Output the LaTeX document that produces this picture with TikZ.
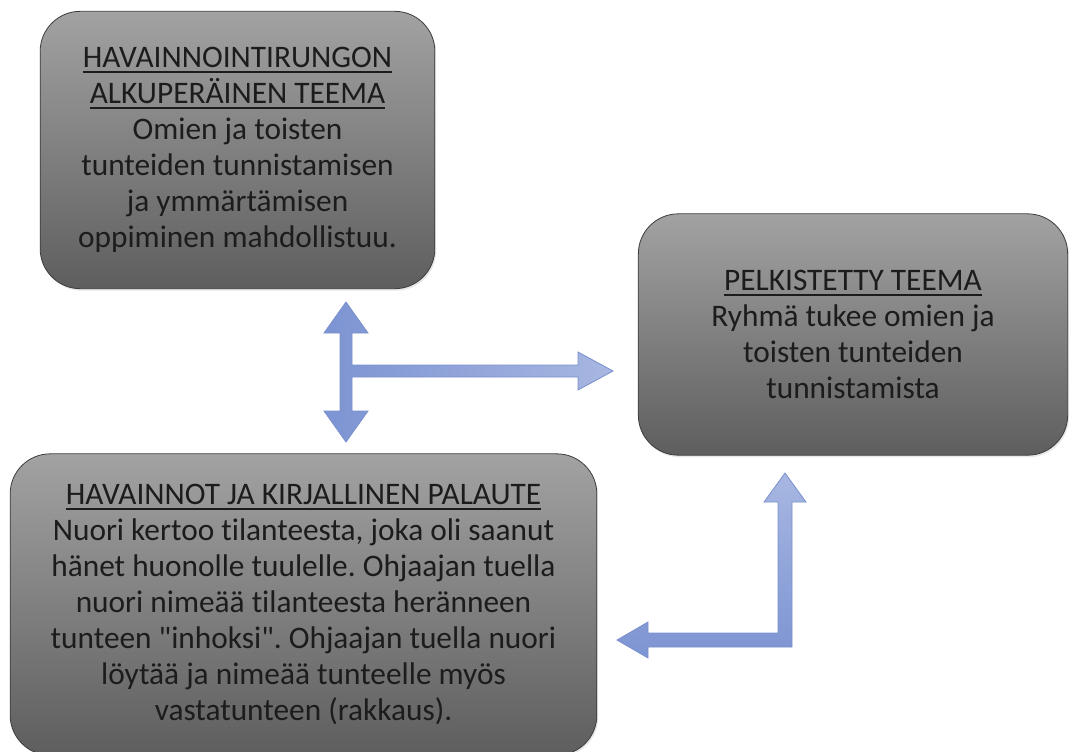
\documentclass[tikz,border=0pt]{standalone}
\usepackage{fontspec}
\setmainfont{Carlito}[Ligatures={NoCommon,TeXOff}]
\usepackage{tikz}
\usetikzlibrary{positioning, shadows}
\usepackage{xcolor}
\definecolor{boxtop}{HTML}{A2A2A2}
\definecolor{boxbottom}{HTML}{5E5E5E}
\definecolor{boxedge}{HTML}{3C3C3C}
\definecolor{boxtext}{HTML}{1C1C1C}
\definecolor{arrowdark}{HTML}{7C94D2}
\definecolor{arrowlight}{HTML}{A8B7E2}
\definecolor{arrowedge}{HTML}{7A90CC}
\frenchspacing
\newsavebox{\otsikkobox}
\newcommand{\otsikko}[1]{\sbox{\otsikkobox}{#1}\rlap{\rule[-4pt]{\wd\otsikkobox}{1.5pt}}\usebox{\otsikkobox}}
\tikzset{
  teemabox/.style={draw=boxedge, line width=0.6pt, rounded corners=30pt,
    top color=boxtop, bottom color=boxbottom, text=boxtext, align=center,
    inner sep=0pt, font=\fontsize{23.5}{27}\selectfont,
    drop shadow={opacity=0.2, shadow xshift=1pt, shadow yshift=-1.5pt}},
  nuoli/.style={draw=arrowedge, line width=0.6pt, line join=miter}
}

\begin{document}
\begin{tikzpicture}[x=0.75pt, y=-0.75pt]
\useasboundingbox (0,0) rectangle (1070,751);
% boxes
\node[teemabox, minimum width=296pt, minimum height=208pt] (alku) at (237.5,150)
  {\otsikko{HAVAINNOINTIRUNGON}\\ \otsikko{ALKUPERÄINEN TEEMA}\\ Omien ja toisten\\ tunteiden tunnistamisen\\ ja ymmärtämisen\\ oppiminen mahdollistuu.};
\node[teemabox, minimum width=322pt, minimum height=181pt] (pelk) at (853,334.5)
  {\otsikko{PELKISTETTY TEEMA}\\ Ryhmä tukee omien ja\\ toisten tunteiden\\ tunnistamista};
\node[teemabox, minimum width=440pt, minimum height=226pt] (havainnot) at (303.5,604.5)
  {\otsikko{HAVAINNOT JA KIRJALLINEN PALAUTE}\\ Nuori kertoo tilanteesta, joka oli saanut\\ hänet huonolle tuulelle. Ohjaajan tuella\\ nuori nimeää tilanteesta heränneen\\ tunteen "inhoksi". Ohjaajan tuella nuori\\ löytää ja nimeää tunteelle myös\\ vastatunteen (rakkaus).};
% arrow ends
\coordinate (ylos) at (346,302);
\coordinate (alas) at (346,442);
\coordinate (oikealle) at (613,371);
\coordinate (ylos2) at (785,473);
\coordinate (vasemmalle) at (617,640);
% T-shaped block arrow
\draw[nuoli, left color=arrowdark, right color=arrowlight]
  (ylos) -- (368,333) -- (352,333) -- (352,365) -- (578,365) -- (578,352)
  -- (oikealle) -- (578,390) -- (578,377) -- (352,377) -- (352,411) -- (368,411)
  -- (alas) -- (324,411) -- (340,411) -- (340,333) -- (324,333) -- cycle;
% L-shaped block arrow
\draw[nuoli, top color=arrowlight, bottom color=arrowdark]
  (ylos2) -- (806,502) -- (792,502) -- (792,647) -- (648,647) -- (648,658)
  -- (vasemmalle) -- (648,622) -- (648,633) -- (778,633) -- (778,502)
  -- (764,502) -- cycle;
\end{tikzpicture}
\end{document}
